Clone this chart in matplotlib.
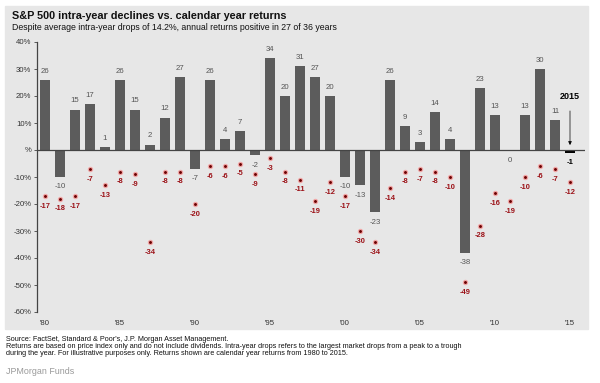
#!/usr/bin/env python3
"""S&P 500 intra-year declines vs. calendar year returns, 1980-2015."""

import matplotlib
matplotlib.use("Agg")
import matplotlib.pyplot as plt
from matplotlib.patches import Rectangle

plt.rcParams["font.family"] = ["Liberation Sans", "DejaVu Sans"]

YEARS = list(range(1980, 2016))
ANNUAL_RETURNS = [26, -10, 15, 17, 1, 26, 15, 2, 12, 27,
                  -7, 26, 4, 7, -2, 34, 20, 31, 27, 20,
                  -10, -13, -23, 26, 9, 3, 14, 4, -38, 23,
                  13, 0, 13, 30, 11, -1]
INTRA_YEAR_DROPS = [-17, -18, -17, -7, -13, -8, -9, -34, -8, -8,
                    -20, -6, -6, -5, -9, -3, -8, -11, -19, -12,
                    -17, -30, -34, -14, -8, -7, -8, -10, -49, -28,
                    -16, -19, -10, -6, -7, -12]
Y_TICKS = [40, 30, 20, 10, 0, -10, -20, -30, -40, -50, -60]
Y_TICK_LABELS = ["40%", "30%", "20%", "10%", "%", "-10%", "-20%", "-30%",
                 "-40%", "-50%", "-60%"]
X_TICKS = [1980, 1985, 1990, 1995, 2000, 2005, 2010, 2015]
X_TICK_LABELS = ["'80", "'85", "'90", "'95", "'00", "'05", "'10", "'15"]

COLORS = {
    "panel": "#e7e7e7",
    "bar": "#5c5c5c",
    "bar_label": "#555555",
    "dot": "#6a0000",
    "dot_edge": "#f2a8a8",
    "drop_label": "#9c1218",
    "axis": "#444444",
    "text": "#111111",
    "brand": "#9a9a9a",
}

W, H = 600, 383
fig = plt.figure(figsize=(6.0, 3.83), dpi=100)


def fx(px):
    return px / W


def fy(py):
    return 1 - py / H


# grey background panel
fig.patches.append(Rectangle((fx(5), fy(329)), fx(583), (329 - 6) / H,
                             transform=fig.transFigure, color=COLORS["panel"],
                             zorder=-10))

ax = fig.add_axes([fx(37), fy(312), fx(548), (312 - 42) / H])
ax.set_zorder(5)
ax.set_facecolor("none")
ax.set_xlim(1979.467, 2016)
ax.set_ylim(-60, 40)

bar_colors = [COLORS["bar"]] * (len(YEARS) - 1) + ["#000000"]
ax.bar(YEARS, ANNUAL_RETURNS, width=0.62, color=bar_colors, zorder=3)
ax.axhline(0, color=COLORS["axis"], linewidth=0.9, zorder=4)

ax.scatter(YEARS, INTRA_YEAR_DROPS, s=9, color=COLORS["dot"],
           edgecolors=COLORS["dot_edge"], linewidths=0.9, zorder=5)

for year, ret in zip(YEARS, ANNUAL_RETURNS):
    last = year == YEARS[-1]
    offset = 6.2 if ret > 0 else -7.2
    ax.annotate(str(ret), (year, ret), xytext=(0, offset),
                textcoords="offset points", ha="center", va="center",
                fontsize=5.6, color="#000000" if last else COLORS["bar_label"],
                fontweight="bold" if last else "normal", zorder=6)

for year, drop in zip(YEARS, INTRA_YEAR_DROPS):
    ax.annotate(str(drop), (year, drop), xytext=(0, -7.4),
                textcoords="offset points", ha="center", va="center",
                fontsize=5.4, fontweight="bold", color=COLORS["drop_label"],
                zorder=6)

# 2015 call-out
ax.annotate("", xy=(2015, 0.8), xytext=(2015, 15.5),
            arrowprops=dict(arrowstyle="-|>", color="#000000", lw=0.5,
                            mutation_scale=5), zorder=6)
ax.text(2015, 18, "2015", ha="center", va="bottom", fontsize=6.5,
        fontweight="bold", color="#000000")

for side in ("top", "right", "bottom"):
    ax.spines[side].set_visible(False)
ax.spines["left"].set_color(COLORS["axis"])
ax.spines["left"].set_linewidth(0.9)
ax.set_yticks(Y_TICKS)
ax.set_yticklabels(Y_TICK_LABELS)
ax.set_xticks(X_TICKS)
ax.set_xticklabels(X_TICK_LABELS)
ax.tick_params(axis="y", length=2, width=0.6, colors=COLORS["axis"],
               labelsize=5.6, labelcolor="#333333", pad=2)
ax.tick_params(axis="x", length=0, labelsize=5.6, labelcolor="#333333", pad=6)

fig.text(fx(12), fy(16), "S&P 500 intra-year declines vs. calendar year returns",
         fontsize=7.8, fontweight="bold", color=COLORS["text"], va="center")
fig.text(fx(12), fy(28),
         "Despite average intra-year drops of 14.2%, annual returns positive in 27 of 36 years",
         fontsize=6.35, color=COLORS["text"], va="center")

fig.text(fx(6), fy(336),
         "Source: FactSet, Standard & Poor's, J.P. Morgan Asset Management.\n"
         "Returns are based on price index only and do not include dividends. "
         "Intra-year drops refers to the largest market drops from a peak to a trough\n"
         "during the year. For illustrative purposes only. Returns shown are calendar "
         "year returns from 1980 to 2015.",
         fontsize=5.2, color=COLORS["text"], va="top", linespacing=1.0)
fig.text(fx(6), fy(372), "JPMorgan Funds", fontsize=6.4,
         color=COLORS["brand"], va="center")

fig.savefig("out.png", dpi=100)
